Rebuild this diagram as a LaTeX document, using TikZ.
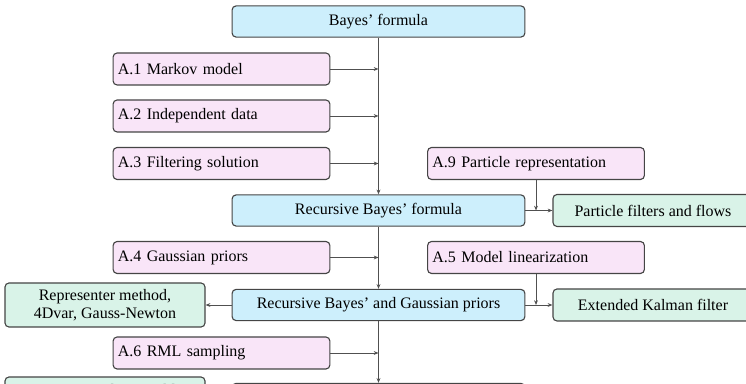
\documentclass[tikz,border=0pt]{standalone}
\usepackage{fontspec}
\setmainfont{Liberation Serif}
\usetikzlibrary{arrows.meta}
\definecolor{bluefill}{HTML}{CDEFFC}
\definecolor{pinkfill}{HTML}{F9E5F8}
\definecolor{greenfill}{HTML}{D9F3E8}
\definecolor{boxline}{HTML}{454545}
\definecolor{linkline}{HTML}{505050}
\begin{document}
\begin{tikzpicture}[x=0.625pt,y=-0.625pt,
  box/.style={draw=boxline, line width=0.7pt, rounded corners=2.5pt,
    inner sep=0pt, font=\fontsize{10}{11.5}\selectfont},
  mainbox/.style={box, fill=bluefill, minimum width=183pt, minimum height=19.5pt},
  assume/.style={box, fill=pinkfill, inner xsep=3pt, text width=129.5pt,
    align=left, minimum height=20pt},
  method/.style={box, fill=greenfill, minimum width=125pt, minimum height=20pt,
    align=center},
  link/.style={draw=linkline, line width=0.6pt, -{Stealth[length=3pt,width=2.4pt]}}]
\useasboundingbox (0,0) rectangle (746,384);
\clip (0,0) rectangle (746,384);

% main chain
\node[mainbox] (bayes) at (378.5,21.5) {Bayes’ formula};
\node[mainbox] (rec)   at (378.5,210.5) {Recursive Bayes’ formula};
\node[mainbox] (rbg)   at (378.5,305) {Recursive Bayes’ and Gaussian priors};
\node[mainbox] (next)  at (378.5,399) {};

% assumptions
\node[assume] (a1) at (221.5,69)    {A.1 Markov model};
\node[assume] (a2) at (221.5,116)   {A.2 Independent data};
\node[assume] (a3) at (221.5,163.5) {A.3 Filtering solution};
\node[assume] (a9) at (536,163.5)   {A.9 Particle representation};
\node[assume] (a4) at (221.5,257.5) {A.4 Gaussian priors};
\node[assume] (a5) at (536,257.5)   {A.5 Model linearization};
\node[assume] (a6) at (221.5,353)   {A.6 RML sampling};

% methods
\node[method] (pf)  at (653,210.5) {Particle filters and flows};
\node[method, minimum height=27.5pt] (rep) at (105,305)
  {Representer method,\\4Dvar, Gauss-Newton};
\node[method] (ekf) at (653,305) {Extended Kalman filter};
\node[method, minimum height=27.5pt] (ens) at (105,399)
  {En4DVar with ensemble\\Gauss-Newton};

% connectors
\draw[link] (bayes) -- (rec);
\draw[link] (rec) -- (rbg);
\draw[link] (rbg) -- (next);
\draw[link] (a1) -- (a1 -| bayes);
\draw[link] (a2) -- (a2 -| bayes);
\draw[link] (a3) -- (a3 -| bayes);
\draw[link] (a4) -- (a4 -| rec);
\draw[link] (a6) -- (a6 -| rbg);
\draw[link] (rec) -- (pf);
\draw[link] (a9) -- (a9 |- rec);
\draw[link] (rbg) -- (ekf);
\draw[link] (a5) -- (a5 |- rbg);
\draw[link] (rbg) -- (rep);
\end{tikzpicture}
\end{document}
